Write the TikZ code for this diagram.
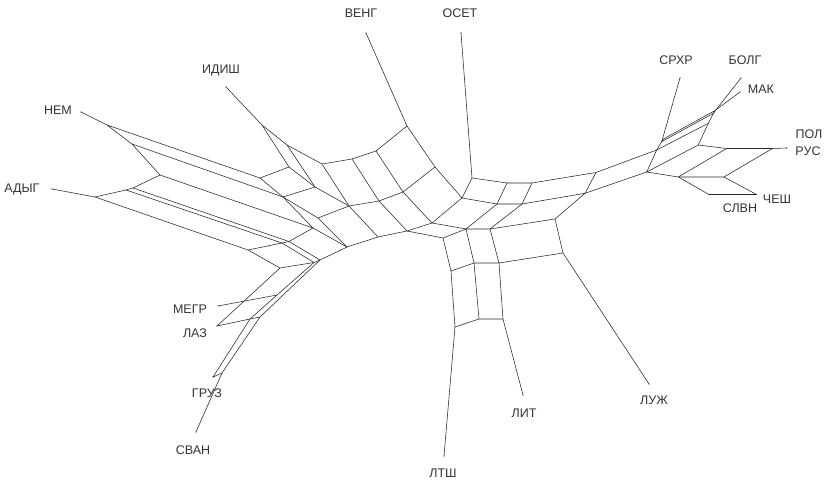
\documentclass[tikz,border=0pt]{standalone}
\usepackage{fontspec}
\setmainfont{Liberation Sans}
\tikzset{
  taxon/.style={font=\fontsize{12.5}{14}\selectfont, text=black!80, inner sep=0pt},
  splitline/.style={draw=black!85, line width=.55pt, line join=round},
  leafdot/.style={fill=black!85},
}
\begin{document}
\begin{tikzpicture}[x=1pt, y=-1pt]
	\useasboundingbox (0,0) rectangle (825,481);
	% left block
	\coordinate (tNEM)  at (81,112);   \coordinate (a2)  at (107,125);
	\coordinate (a3)    at (132,144);  \coordinate (a4)  at (160,175);
	\coordinate (a5)    at (260,178);  \coordinate (a6)  at (283,197);
	\coordinate (a7)    at (313,228);
	\coordinate (tADYG) at (52,189);   \coordinate (b1)  at (95,197);
	\coordinate (b2)    at (133,188);  \coordinate (b2x) at (126,190);
	\coordinate (b3)    at (248,250);  \coordinate (c1)  at (282,243);
	\coordinate (c1x)   at (289,241.5);\coordinate (r1)  at (280,268);
	\coordinate (q1)    at (320,260);  \coordinate (q2)  at (314,262.5);
	\coordinate (tLAZ)  at (217,326);  \coordinate (tMEGR) at (218,306);
	\coordinate (mg)    at (277,295);  \coordinate (l1)  at (250,319);
	\coordinate (l1x)   at (260,317);  \coordinate (tGRUZ) at (213,377);
	\coordinate (g1x)   at (222,373);  \coordinate (tSVAN) at (196,432);
	% top block
	\coordinate (tIDISH) at (226,87);  \coordinate (tVENG) at (366,33);
	\coordinate (t0) at (262,125); \coordinate (t1) at (287,145); \coordinate (t2) at (322,164);
	\coordinate (t3) at (352,159); \coordinate (t4) at (376,151); \coordinate (t5) at (407,126);
	\coordinate (u0) at (289,167); \coordinate (u1) at (315,187); \coordinate (u2) at (349,206);
	\coordinate (u3) at (379,201); \coordinate (u4) at (403,192); \coordinate (u5) at (435,167);
	\coordinate (v2) at (318,218);
	\coordinate (w2) at (347,247); \coordinate (w3) at (378,237); \coordinate (w4) at (407,231);
	\coordinate (w5) at (432,223); \coordinate (x5) at (462,198);
	% middle block
	\coordinate (tOSET) at (461,33);   \coordinate (o)  at (472,178);
	\coordinate (y1) at (507,183); \coordinate (y2) at (532,183);
	\coordinate (z1) at (497,204); \coordinate (z2) at (522,204);
	\coordinate (n0) at (443,238); \coordinate (n1) at (466,229);
	\coordinate (n2) at (490,229); \coordinate (n3) at (555,219);
	\coordinate (k0) at (451,271); \coordinate (k1) at (474,263);
	\coordinate (k2) at (499,263); \coordinate (k3) at (563,253);
	\coordinate (m0) at (455,327); \coordinate (m1) at (479,319); \coordinate (m2) at (503,319);
	\coordinate (tLTSH) at (444,456);  \coordinate (tLIT) at (523,395);
	\coordinate (tLUZH) at (649,384);
	% right block
	\coordinate (s0)  at (596,172.5);  \coordinate (s1)  at (585,193.3);
	\coordinate (s2)  at (646.7,172);  \coordinate (s3)  at (656.7,150);
	\coordinate (s4)  at (661.7,141.7);\coordinate (s4x) at (663.5,139);
	\coordinate (s5)  at (698.3,145);  \coordinate (s6)  at (708.3,123.3);
	\coordinate (s7)  at (713.3,113.3);\coordinate (s7x) at (715,110.5);
	\coordinate (s9)  at (678.3,177);  \coordinate (s10) at (724,177);
	\coordinate (s11) at (726.7,148.5);\coordinate (s12) at (772.5,148.5);
	\coordinate (s13) at (709,194.5);
	\coordinate (tPOL)  at (786.7,148);  \coordinate (tCHESH) at (756.5,194.5);
	\coordinate (tSRHR) at (680,78);     \coordinate (tBOLG)  at (741,78);
	\coordinate (tMAK)  at (740,92);

	\begin{scope}[splitline]
	% left block
	\draw (tNEM) -- (a2) -- (a3) -- (a4) -- (a7) -- (a6) -- (a5) -- (a2);
	\draw (a3) -- (a6);
	\draw (tADYG) -- (b1) -- (b2x) -- (b2) -- (a4);
	\draw (b2) -- (c1x) -- (a7);
	\draw (b2x) -- (c1) -- (c1x);
	\draw (b1) -- (b3) -- (c1);
	\draw (b3) -- (r1) -- (q2) -- (q1) -- (w2) -- (a7);
	\draw (c1) -- (q2);
	\draw (c1x) -- (q1);
	\draw (r1) -- (tLAZ) -- (l1) -- (mg) -- (q2);
	\draw (tMEGR) -- (mg);
	\draw (q1) -- (l1x) -- (l1) -- (tGRUZ) -- (g1x) -- (l1x);
	\draw (g1x) -- (tSVAN);
	% top block
	\draw (tIDISH) -- (t0) -- (t1) -- (t2) -- (t3) -- (t4) -- (t5) -- (tVENG);
	\draw (t0) -- (u0) -- (u1) -- (u2) -- (u3) -- (u4) -- (u5) -- (t5);
	\draw (a5) -- (u0);
	\draw (t1) -- (u1) -- (a6);
	\draw (t2) -- (u2);
	\draw (t3) -- (u3);
	\draw (t4) -- (u4);
	\draw (a6) -- (v2) -- (u2);
	\draw (v2) -- (w2) -- (w3) -- (w4) -- (w5) -- (x5) -- (u5);
	\draw (u2) -- (w3);
	\draw (u3) -- (w4);
	\draw (u4) -- (w5);
	% middle block
	\draw (tOSET) -- (o) -- (x5) -- (z1) -- (z2) -- (s1) -- (s0) -- (y2) -- (y1) -- (o);
	\draw (y1) -- (z1);
	\draw (y2) -- (z2);
	\draw (w4) -- (n0) -- (n1) -- (n2) -- (n3) -- (s1);
	\draw (w5) -- (n1) -- (z1);
	\draw (n2) -- (z2);
	\draw (n0) -- (k0) -- (k1) -- (k2) -- (k3) -- (n3);
	\draw (n1) -- (k1);
	\draw (n2) -- (k2);
	\draw (k0) -- (m0) -- (m1) -- (m2) -- (k2);
	\draw (k1) -- (m1);
	\draw (m0) -- (tLTSH);
	\draw (m2) -- (tLIT);
	\draw (k3) -- (tLUZH);
	% right block
	\draw (s0) -- (s3) -- (s2) -- (s1);
	\draw (s3) -- (s4) -- (tSRHR);
	\draw (s3) -- (s6) -- (s7) -- (s4);
	\draw (s4) -- (s4x) -- (s7x) -- (s7);
	\draw (s2) -- (s5) -- (s6);
	\draw (s5) -- (s11) -- (s12) -- (tPOL);
	\draw (s2) -- (s9) -- (s11);
	\draw (s9) -- (s10) -- (s12);
	\draw (s9) -- (s13) -- (tCHESH) -- (s10);
	\draw (s7) -- (tBOLG);
	\draw (s7x) -- (tMAK);
	\end{scope}

	\foreach \leaf in {tNEM,tADYG,tIDISH,tVENG,tOSET,tSRHR,tBOLG,tMAK,tPOL,tCHESH,s13,tLUZH,tLIT,tLTSH,tSVAN,tGRUZ,tLAZ,tMEGR}
		\fill[leafdot] (\leaf) circle (.7pt);

	% labels
	\node[taxon] (lNEM)   at (58,110)  {НЕМ};
	\node[taxon] (lADYG)  at (22,189)  {АДЫГ};
	\node[taxon] (lIDISH) at (221,70)  {ИДИШ};
	\node[taxon] (lVENG)  at (361,13)  {ВЕНГ};
	\node[taxon] (lOSET)  at (460,13)  {ОСЕТ};
	\node[taxon] (lSRHR)  at (676,60)  {СРХР};
	\node[taxon] (lBOLG)  at (745,60)  {БОЛГ};
	\node[taxon] (lMAK)   at (761,89)  {МАК};
	\node[taxon] (lPOL)   at (809,134) {ПОЛ};
	\node[taxon] (lRUS)   at (808,151) {РУС};
	\node[taxon] (lCHESH) at (777,199) {ЧЕШ};
	\node[taxon] (lSLVN)  at (740,208) {СЛВН};
	\node[taxon] (lLUZH)  at (654,400) {ЛУЖ};
	\node[taxon] (lLIT)   at (524,413) {ЛИТ};
	\node[taxon] (lLTSH)  at (443,473) {ЛТШ};
	\node[taxon] (lSVAN)  at (193,450) {СВАН};
	\node[taxon] (lGRUZ)  at (207,393) {ГРУЗ};
	\node[taxon] (lLAZ)   at (195,333) {ЛАЗ};
	\node[taxon] (lMEGR)  at (190,309) {МЕГР};
\end{tikzpicture}
\end{document}
